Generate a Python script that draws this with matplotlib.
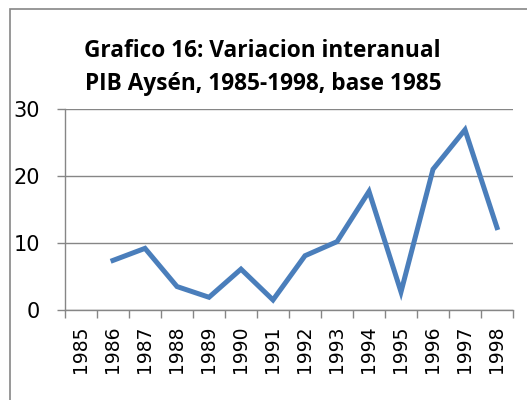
import numpy as np
import matplotlib.pyplot as plt
from matplotlib.patches import Rectangle

# Year-on-year variation, PIB Aysén
years = ['1985', '1986', '1987', '1988', '1989', '1990', '1991',
         '1992', '1993', '1994', '1995', '1996', '1997', '1998']
variation = [np.nan, 7.4, 9.2, 3.5, 1.9, 6.1, 1.5,
             8.1, 10.2, 17.7, 2.7, 21.0, 26.9, 12.3]
yTicks = [0, 10, 20, 30]

lineColor = '#4A7EBB'
gridColor = '#868686'

fig = plt.figure(figsize=(5.27, 4.0), dpi=100)
ax = fig.add_axes([65 / 527, 90 / 400, 448 / 527, 201 / 400])

x = np.arange(len(years))
ax.plot(x, variation, color=lineColor, linewidth=3.6, solid_joinstyle='miter')

ax.set_xlim(-0.5, len(years) - 0.5)
ax.set_ylim(0, 30)
ax.set_yticks(yTicks)
ax.set_yticklabels([str(v) for v in yTicks], fontsize=15)
ax.set_xticks(x)
ax.set_xticklabels(years, rotation=90, fontsize=13.5)
ax.set_xticks(np.arange(len(years) + 1) - 0.5, minor=True)

ax.tick_params(axis='x', which='major', length=0, pad=11)
ax.tick_params(axis='x', which='minor', length=6, width=1, color=gridColor)
ax.tick_params(axis='y', length=6, width=1, color=gridColor, pad=12)

ax.grid(axis='y', color=gridColor, linewidth=1)
ax.set_axisbelow(True)
for side in ['top', 'right']:
    ax.spines[side].set_visible(False)
for side in ['left', 'bottom']:
    ax.spines[side].set_color(gridColor)
    ax.spines[side].set_linewidth(1)

fig.text(0.497, 1 - 57 / 400, 'Grafico 16: Variacion interanual',
         ha='center', va='baseline', fontsize=16.3, fontweight='bold', family='Open Sans')
fig.text(0.499, 1 - 90 / 400, 'PIB Aysén, 1985-1998, base 1985',
         ha='center', va='baseline', fontsize=16.3, fontweight='bold', family='Open Sans')

# chart frame
fig.patches.append(Rectangle((9.5 / 527, -0.1), 1.2, 1.1 - 9.5 / 400, transform=fig.transFigure,
                             fill=False, edgecolor=gridColor, linewidth=1.2))

fig.savefig('out.png', dpi=100)
